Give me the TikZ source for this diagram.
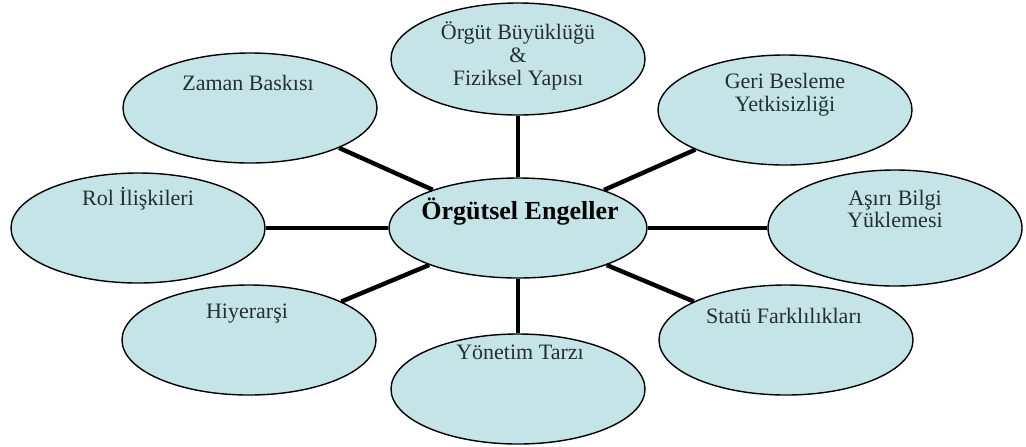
\documentclass[tikz,border=0pt]{standalone}
\usepackage{fontspec}
\setmainfont{Liberation Serif}
\usetikzlibrary{shapes.geometric}
\definecolor{blobfill}{RGB}{197,228,232}
\definecolor{inkgray}{RGB}{35,48,48}
\begin{document}
\begin{tikzpicture}[x=0.5pt,y=-0.5pt,
  blob/.style={ellipse,draw,line width=0.7pt,fill=blobfill,inner sep=0pt,
    minimum width=127pt,minimum height=55pt},
  lbl/.style={text=inkgray,font=\fontsize{11}{11.4}\selectfont,align=center,inner sep=0pt},
  spoke/.style={line width=2.2pt}]
  \useasboundingbox (0,0) rectangle (1026,446);
  % ellipses
  \node[blob,minimum width=129pt,minimum height=50pt] (hub) at (518,228) {};
  \node[blob,minimum height=56pt] (boyut) at (518,59) {};
  \node[blob] (geri) at (785,110) {};
  \node[blob,minimum height=58pt] (bilgi) at (895,228) {};
  \node[blob] (statu) at (786,340) {};
  \node[blob] (yonetim) at (518,389) {};
  \node[blob] (hiyer) at (249,340) {};
  \node[blob] (rol) at (138,228) {};
  \node[blob] (zaman) at (250,108) {};
  % texts
  \node[lbl,font=\fontsize{13}{14}\selectfont\bfseries,text=black] (hubt) at (520,212) {Örgütsel Engeller};
  \node[lbl] (boyutt) at (518,56) {Örgüt Büyüklüğü\\\&\\Fiziksel Yapısı};
  \node[lbl] (gerit) at (785,95) {Geri Besleme\\Yetkisizliği};
  \node[lbl] (bilgit) at (895,209) {Aşırı Bilgi\\Yüklemesi};
  \node[lbl] (statut) at (784,316) {Statü Farklılıkları};
  \node[lbl] (yonetimt) at (520,352) {Yönetim Tarzı};
  \node[lbl] (hiyert) at (247,314) {Hiyerarşi};
  \node[lbl] (rolt) at (138,199) {Rol İlişkileri};
  \node[lbl] (zamant) at (248,83) {Zaman Baskısı};
  % spokes
  \foreach \n in {boyut,geri,bilgi,statu,yonetim,hiyer,rol,zaman}
    \draw[spoke] (hub) -- (\n);
\end{tikzpicture}
\end{document}
